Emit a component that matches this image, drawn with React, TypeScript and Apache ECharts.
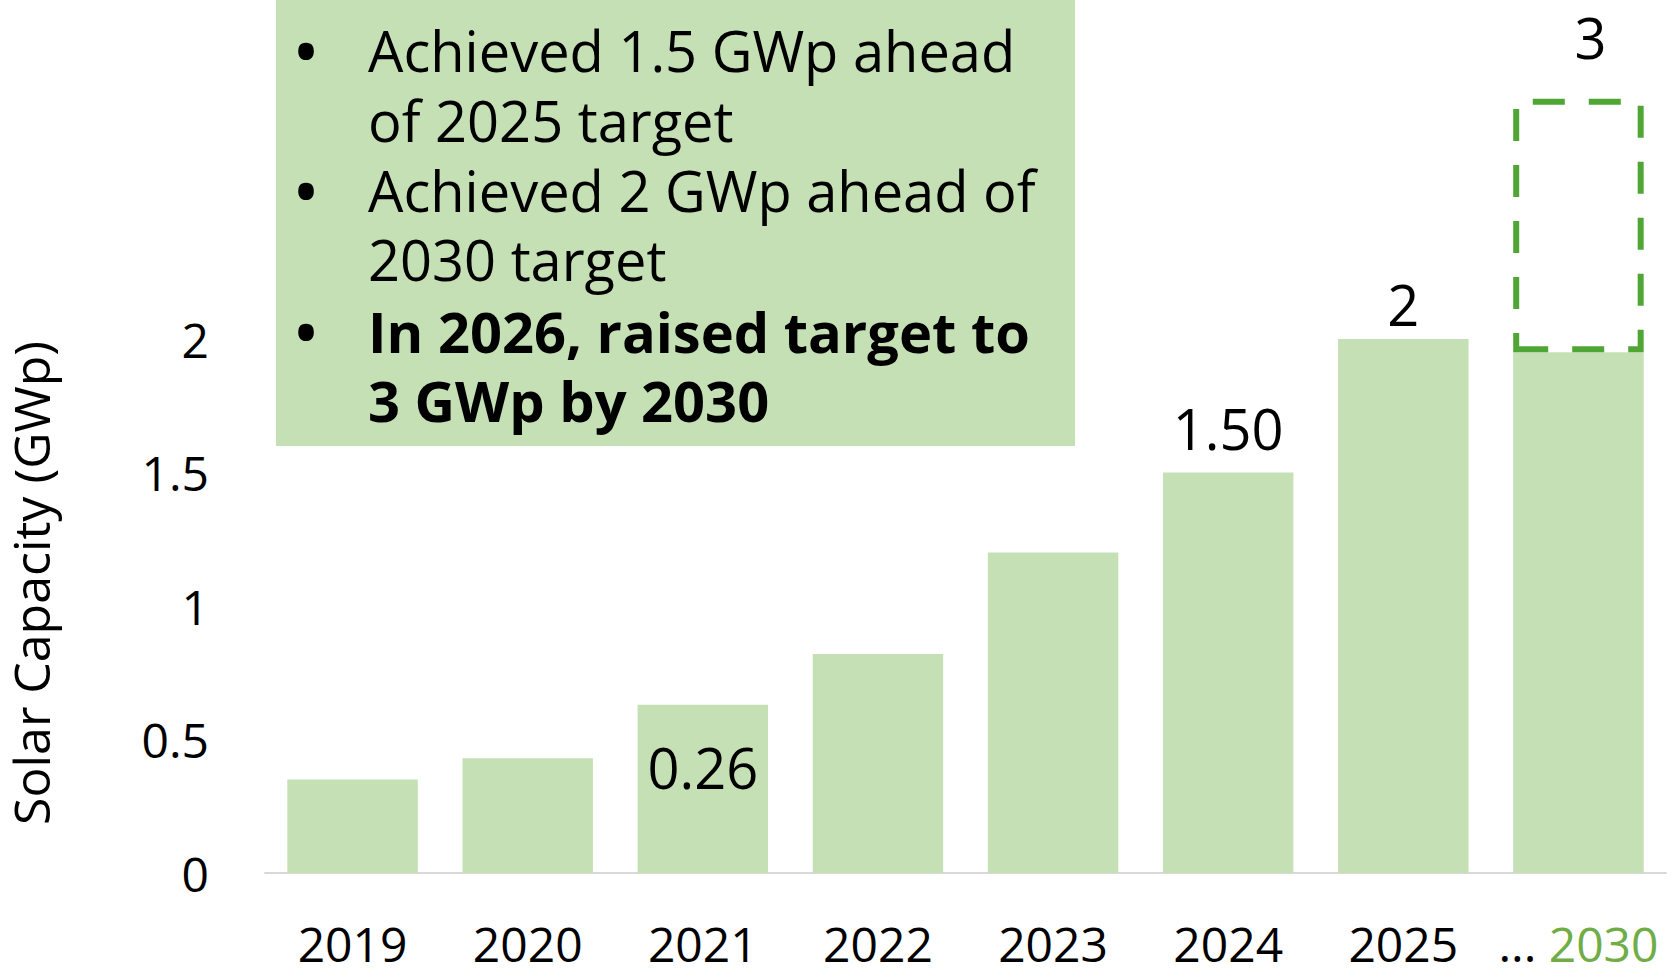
import React, { useEffect, useRef } from "react";
import * as echarts from "echarts";

const years = ["2019", "2020", "2021", "2022", "2023", "2024", "2025", "2030"];
const capacity = [0.35, 0.43, 0.63, 0.82, 1.2, 1.5, 2.0, 1.95];
const valueLabels = ["", "", "0.26", "", "", "1.50", "2", ""];
const target2030 = 2.9;
const targetLabel = "3";
const yTicks = [0, 0.5, 1, 1.5, 2];
const bulletLines = [
  { text: "Achieved 1.5 GWp ahead", bullet: true, bold: false },
  { text: "of 2025 target", bullet: false, bold: false },
  { text: "Achieved 2 GWp ahead of", bullet: true, bold: false },
  { text: "2030 target", bullet: false, bold: false },
  { text: "In 2026, raised target to", bullet: true, bold: true },
  { text: "3 GWp by 2030", bullet: false, bold: true },
];

const FONT = '"Open Sans", "Noto Sans", sans-serif';
const BAR = "#C5E0B4";
const DASH = "#4FA634";
const GREEN_LABEL = "#70AD47";

export default function App() {
  const ref = useRef<HTMLDivElement>(null);
  useEffect(() => {
    if (!ref.current) return;
    const chart = echarts.init(ref.current, null, { renderer: "svg" });
    const lastIdx = years.length - 1;

    const labelStyle: Record<number, any> = {
      2: { position: "insideTop", distance: 34 },
      5: { position: "top", distance: 17 },
      6: { position: "top", distance: 7 },
    };

    const capData = capacity.map((v, i) => {
      const t = valueLabels[i];
      if (!t) return { value: v, label: { show: false } };
      return {
        value: v,
        label: {
          show: true,
          formatter: t,
          fontSize: 56,
          fontFamily: FONT,
          color: "#000",
          ...labelStyle[i],
        },
      };
    });

    const targetData = years.map((_, i) =>
      i === lastIdx
        ? {
            value: +(target2030 - capacity[lastIdx]).toFixed(3),
            label: {
              show: true,
              formatter: targetLabel,
              position: "top",
              distance: 34,
              offset: [12, 0],
              fontSize: 56,
              fontFamily: FONT,
              color: "#000",
            },
          }
        : null
    );

    const lineY = [50, 120, 190, 259, 331, 400];
    const textEls: any[] = [];
    bulletLines.forEach((l, i) => {
      if (l.bullet) {
        textEls.push({
          type: "text",
          x: 306,
          y: lineY[i],
          style: {
            text: "•",
            font: `700 56px ${FONT}`,
            fill: "#000",
            align: "center",
            verticalAlign: "middle",
          },
        });
      }
      textEls.push({
        type: "text",
        x: 368,
        y: lineY[i],
        style: {
          text: l.text,
          font: `${l.bold ? 700 : 400} 56px ${FONT}`,
          fill: "#000",
          align: "left",
          verticalAlign: "middle",
        },
      });
    });

    chart.setOption({
      animation: false,
      grid: { left: 265, right: 7, top: 72, bottom: 107 },
      xAxis: {
        type: "category",
        data: years,
        axisLine: { show: true, lineStyle: { color: "#D9D9D9", width: 2 } },
        axisTick: { show: false },
        axisLabel: {
          interval: 0,
          margin: 46,
          fontSize: 48,
          fontFamily: FONT,
          color: "#000",
          formatter: (v: string) => (v === years[lastIdx] ? `{dots|...} {g|${v}}` : v),
          rich: {
            dots: { fontSize: 48, fontFamily: FONT, color: "#000" },
            g: { fontSize: 48, fontFamily: FONT, color: GREEN_LABEL },
          },
        },
      },
      yAxis: {
        type: "value",
        min: 0,
        max: 3,
        interval: 0.5,
        splitLine: { show: false },
        axisLine: { show: false },
        axisTick: { show: false },
        axisLabel: {
          margin: 56,
          fontSize: 48,
          fontFamily: FONT,
          color: "#000",
          formatter: (v: number) => (yTicks.includes(v) ? String(v) : ""),
        },
      },
      series: [
        {
          type: "bar",
          stack: "total",
          data: capData,
          barCategoryGap: "25.5%",
          itemStyle: { color: BAR },
        },
        {
          type: "bar",
          stack: "total",
          data: targetData,
          itemStyle: {
            color: "rgba(0,0,0,0)",
            borderColor: DASH,
            borderWidth: 6,
            borderType: [32, 24],
          },
        },
      ],
      graphic: [
        {
          type: "text",
          x: 31,
          y: 583,
          rotation: Math.PI / 2,
          style: {
            text: "Solar Capacity (GWp)",
            font: `400 50px ${FONT}`,
            fill: "#000",
            align: "center",
            verticalAlign: "middle",
          },
        },
        {
          type: "group",
          children: [
            {
              type: "rect",
              shape: { x: 276, y: 0, width: 799, height: 446 },
              style: { fill: BAR },
            },
            ...textEls,
          ],
        },
      ],
    });
    return () => chart.dispose();
  }, []);
  return (
    <div
      ref={ref}
      style={{ position: "fixed", left: 0, top: 0, width: 1673, height: 980, background: "#fff" }}
    />
  );
}
